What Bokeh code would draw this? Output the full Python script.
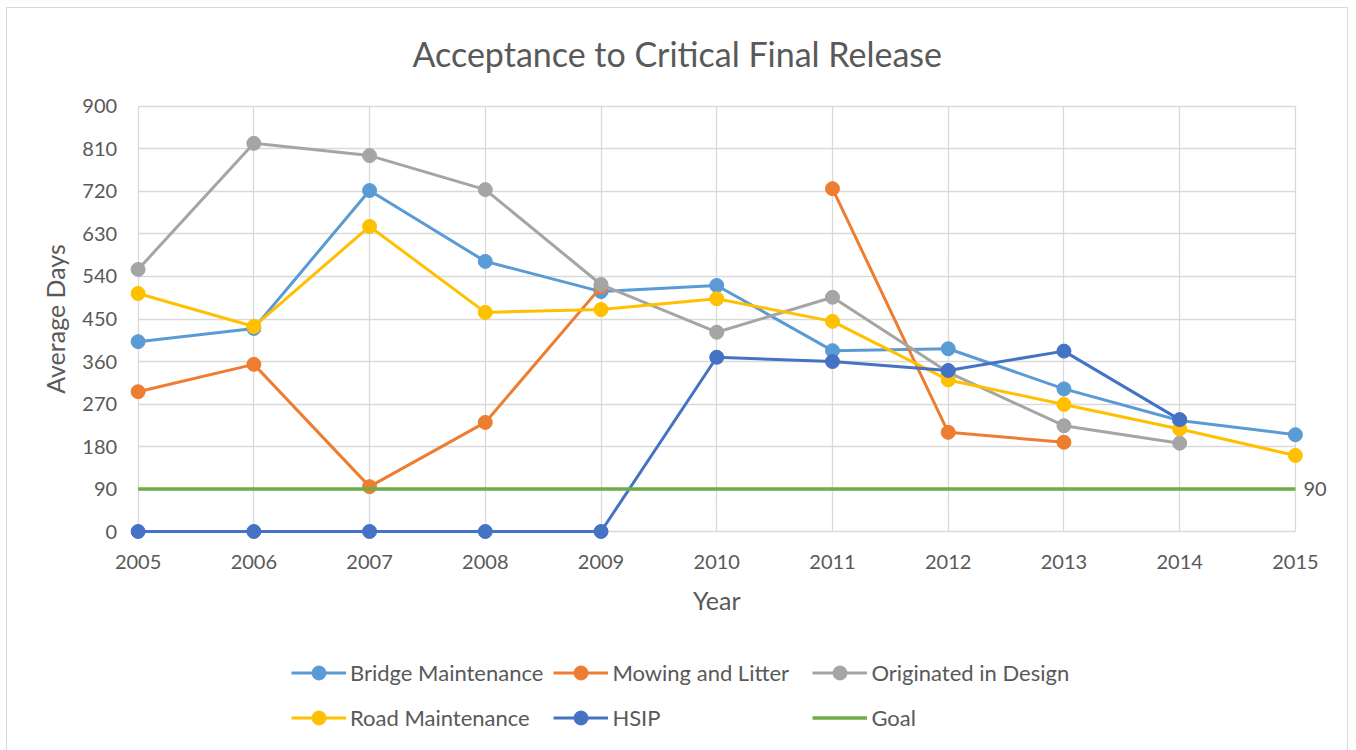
import math
import numpy as np
from bokeh.plotting import figure
from bokeh.models import Range1d, Legend, LegendItem, FixedTicker, LinearAxis, Label
from bokeh.embed import file_html
from bokeh.resources import INLINE

nan = np.nan

years = [2005, 2006, 2007, 2008, 2009, 2010, 2011, 2012, 2013, 2014, 2015]
bridge_maintenance = [402, 430, 722, 572, 508, 521, 383, 387, 302, 235, 205]
mowing_and_litter = [296, 354, 95, 231, 518, nan, 726, 210, 189, nan, nan]
originated_in_design = [555, 822, 796, 724, 523, 422, 496, 337, 224, 187, nan]
road_maintenance = [504, 434, 646, 464, 470, 493, 445, 321, 269, 217, 161]
hsip = [0, 0, 0, 0, 0, 369, 360, 341, 382, 237, nan]
goal = [90] * len(years)

y_ticks = list(range(0, 901, 90))

FONT = "Lato"
TXT = "#595959"
GRID = "#d9d9d9"

# the frame spans the whole chart area; axes are pinned to the data edges
p = figure(
    width=1342, height=743,
    x_range=Range1d(2003.8715, 2015.4674),
    y_range=Range1d(-459.5, 925.4),
    x_axis_location=None, y_axis_location=None,
    output_backend="svg", toolbar_location=None,
    min_border_left=0, min_border_right=0,
    min_border_top=86, min_border_bottom=3,
    margin=(7, 0, 0, 6),
    styles={"border-top": "1px solid #d9d9d9",
            "border-left": "1px solid #d9d9d9",
            "border-right": "1px solid #d9d9d9"},
)
p.outline_line_color = None
p.background_fill_color = "white"
p.border_fill_color = "white"

p.title.text = "Acceptance to Critical Final Release"
p.title.align = "left"
p.title.offset = 405
p.title.standoff = 42
p.title.text_font = FONT
p.title.text_font_size = "34px"
p.title.text_font_style = "normal"
p.title.text_color = TXT

x_axis = LinearAxis(ticker=FixedTicker(ticks=years), fixed_location=y_ticks[0])
y_axis = LinearAxis(ticker=FixedTicker(ticks=y_ticks), fixed_location=years[0])
# the goal value is labelled just right of the last year
goal_axis = LinearAxis(ticker=FixedTicker(ticks=[goal[-1]]), fixed_location=years[-1])
p.add_layout(x_axis, "below")
p.add_layout(y_axis, "left")
p.add_layout(goal_axis, "right")

for ax in (x_axis, y_axis, goal_axis):
    ax.axis_line_color = None
    ax.major_tick_line_color = None
    ax.minor_tick_line_color = None
    ax.major_tick_in = 0
    ax.major_tick_out = 0
    ax.major_label_text_font = FONT
    ax.major_label_text_font_size = "20px"
    ax.major_label_text_color = TXT
x_axis.major_label_standoff = 23
y_axis.major_label_standoff = 21
goal_axis.major_label_standoff = 8

# axis titles
p.add_layout(Label(x=years[0], y=(y_ticks[0] + y_ticks[-1]) / 2, x_offset=-83.5,
                   text="Average Days", angle=math.pi / 2,
                   text_align="center", text_baseline="middle",
                   text_font=FONT, text_font_size="25px", text_color=TXT))
p.add_layout(Label(x=(years[0] + years[-1]) / 2, y=y_ticks[0], y_offset=-68,
                   text="Year", text_align="center", text_baseline="middle",
                   text_font=FONT, text_font_size="25px", text_color=TXT))

p.xgrid.ticker = FixedTicker(ticks=years)
p.ygrid.ticker = FixedTicker(ticks=y_ticks)
p.xgrid.grid_line_color = GRID
p.ygrid.grid_line_color = GRID
p.xgrid.grid_line_width = 1.3
p.ygrid.grid_line_width = 1.3
p.xgrid.cross_bounds = (y_ticks[0], y_ticks[-1])
p.ygrid.cross_bounds = (years[0], years[-1])

series = [
    ("Bridge Maintenance", bridge_maintenance, "#5B9BD5"),
    ("Mowing and Litter", mowing_and_litter, "#ED7D31"),
    ("Originated in Design", originated_in_design, "#A5A5A5"),
    ("Road Maintenance", road_maintenance, "#FFC000"),
    ("HSIP", hsip, "#4472C4"),
]

items = []
for name, vals, color in series:
    ln = p.line(years, vals, line_color=color, line_width=3)
    mk = p.scatter(years, vals, size=14, fill_color=color, line_color=color)
    items.append(LegendItem(label=name, renderers=[ln, mk]))

gl = p.line(years, goal, line_color="#70AD47", line_width=3.5)
items.append(LegendItem(label="Goal", renderers=[gl]))

legend = Legend(
    items=items,
    location=(284, 13.5),
    orientation="horizontal", ncols=3,
    glyph_width=55, glyph_height=35, label_height=35, label_width=190,
    label_standoff=4, spacing=10, padding=0, margin=0,
    border_line_color=None, background_fill_alpha=0,
    label_text_font=FONT, label_text_font_size="22px",
    label_text_color=TXT,
)
p.add_layout(legend, "center")

open("out.html", "w").write(file_html(p, INLINE))
